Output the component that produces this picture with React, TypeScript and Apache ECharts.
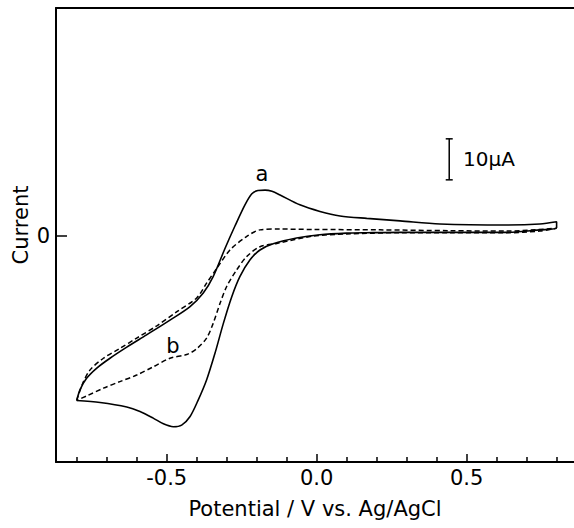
import React, { useEffect, useRef } from "react";
import * as echarts from "echarts";

// Tick values (V) on the potential axis
const xMajorTicks = [-0.5, 0, 0.5];
const xMinorTicks = [-0.8, -0.7, -0.6, -0.4, -0.3, -0.2, -0.1, 0.1, 0.2, 0.3, 0.4, 0.6, 0.7, 0.8];
const yTicks = [0];

// Curve a (solid): forward scan then reverse scan  [potential V, current µA]
const curveAForward: [number, number][] = [
  [-0.8, -40.2], [-0.789, -37.6], [-0.767, -34.8], [-0.733, -32.3], [-0.689, -29.9],
  [-0.633, -27.2], [-0.567, -24.2], [-0.489, -20.6], [-0.422, -17.3], [-0.378, -14.0],
  [-0.345, -10.0], [-0.306, -3.2], [-0.272, 2.4], [-0.239, 7.5], [-0.216, 10.2],
  [-0.196, 11.0], [-0.172, 11.1], [-0.149, 10.8], [-0.122, 9.9], [-0.056, 7.5],
  [0.011, 5.9], [0.078, 4.8], [0.167, 4.2], [0.278, 3.6], [0.411, 2.85],
  [0.633, 2.6], [0.744, 2.85], [0.8, 3.4],
];
const curveAReverse: [number, number][] = [
  [0.8, 1.9], [0.744, 1.4], [0.633, 0.8], [0.444, 0.8], [0.278, 0.8], [0.167, 0.7],
  [0.1, 0.6], [0.011, 0.2], [-0.067, -0.6], [-0.145, -2.0], [-0.189, -3.5],
  [-0.222, -5.9], [-0.256, -10.0], [-0.283, -14.9], [-0.311, -21.4], [-0.339, -28.7],
  [-0.367, -35.2], [-0.395, -40.1], [-0.422, -44.1], [-0.45, -46.2], [-0.478, -46.6],
  [-0.511, -45.9], [-0.545, -44.5], [-0.589, -42.9], [-0.633, -41.8], [-0.722, -40.7],
  [-0.8, -40.2],
];

// Curve b (dashed)
const curveBForward: [number, number][] = [
  [-0.8, -40.2], [-0.782, -36.4], [-0.756, -32.8], [-0.711, -29.9], [-0.656, -27.5],
  [-0.6, -25.0], [-0.533, -22.0], [-0.467, -18.6], [-0.4, -15.2], [-0.367, -11.6],
  [-0.333, -8.0], [-0.289, -3.5], [-0.233, -0.2], [-0.189, 1.4], [-0.122, 1.6],
  [-0.011, 1.5], [0.211, 1.4], [0.444, 1.2], [0.633, 1.1], [0.8, 1.8],
];
const curveBReverse: [number, number][] = [
  [0.8, 1.8], [0.744, 1.1], [0.633, 0.7], [0.444, 0.7], [0.278, 0.7], [0.1, 0.4],
  [-0.011, -0.1], [-0.133, -1.9], [-0.189, -2.7], [-0.233, -5.1], [-0.267, -8.4],
  [-0.3, -12.4], [-0.322, -16.5], [-0.345, -21.4], [-0.367, -25.0], [-0.4, -27.6],
  [-0.433, -29.0], [-0.489, -29.9], [-0.545, -32.0], [-0.6, -34.0], [-0.656, -35.6],
  [-0.711, -37.2], [-0.767, -39.1], [-0.8, -40.2],
];

// Scale bar: 10 µA
const scaleBar: [number, number][] = [[0.442, 13.6], [0.442, 23.6]];

const FONT = "DejaVu Sans";

export default function App() {
  const ref = useRef<HTMLDivElement>(null);
  useEffect(() => {
    if (!ref.current) return;
    const chart = echarts.init(ref.current, undefined, { renderer: "svg" });
    const axisLine = { show: true, onZero: false, lineStyle: { color: "#000", width: 2 } };
    chart.setOption({
      animation: false,
      backgroundColor: "#fff",
      grid: { left: 56, right: 0, top: 8, bottom: 66 },
      xAxis: [
        {
          type: "value", min: -0.869, max: 0.858, position: "bottom",
          axisLine,
          axisTick: { show: true, inside: true, length: 8, customValues: xMajorTicks, lineStyle: { color: "#000", width: 1.5 } },
          axisLabel: {
            customValues: xMajorTicks, margin: 5, color: "#000", fontFamily: FONT, fontSize: 21,
            formatter: (v: number) => v.toFixed(1),
          },
          splitLine: { show: false },
          name: "Potential / V vs. Ag/AgCl", nameLocation: "middle", nameGap: 36,
          nameTextStyle: { color: "#000", fontFamily: FONT, fontSize: 21 },
        },
        {
          type: "value", min: -0.869, max: 0.858, position: "bottom",
          axisLine: { show: false, onZero: false },
          axisTick: { show: true, inside: true, length: 5, customValues: xMinorTicks, lineStyle: { color: "#000", width: 1.5 } },
          axisLabel: { show: false },
          splitLine: { show: false },
        },
        {
          type: "value", min: -0.869, max: 0.858, position: "top",
          axisLine,
          axisTick: { show: false },
          axisLabel: { show: false },
          splitLine: { show: false },
        },
      ],
      yAxis: {
        type: "value", min: -55.2, max: 55.5, position: "left",
        axisLine,
        axisTick: { show: true, inside: true, length: 11, customValues: yTicks, lineStyle: { color: "#000", width: 1.5 } },
        axisLabel: { customValues: yTicks, margin: 6, color: "#000", fontFamily: FONT, fontSize: 21, formatter: (v: number) => String(v) },
        splitLine: { show: false },
      },
      series: [
        {
          type: "line", xAxisIndex: 0, data: [...curveAForward, ...curveAReverse],
          showSymbol: false, smooth: 0.3, lineStyle: { color: "#000", width: 1.6 },
        },
        {
          type: "line", xAxisIndex: 0, data: [...curveBForward, ...curveBReverse],
          showSymbol: false, smooth: 0.3, lineStyle: { color: "#000", width: 1.5, type: [5, 3] },
        },
        {
          type: "line", xAxisIndex: 0, data: scaleBar,
          symbol: "rect", symbolSize: [7, 1.5], showSymbol: true,
          itemStyle: { color: "#000" },
          lineStyle: { color: "#000", width: 1.5 },
        },
      ],
      graphic: [
        { type: "text", left: 463, top: 149, style: { text: "10µA", fill: "#000", font: `20px "${FONT}"` } },
        { type: "text", x: 262, y: 174, style: { text: "a", fill: "#000", font: `21px "${FONT}"`, align: "center", verticalAlign: "middle" } },
        { type: "text", x: 173, y: 346, style: { text: "b", fill: "#000", font: `21px "${FONT}"`, align: "center", verticalAlign: "middle" } },
        { type: "text", x: 21, y: 225, rotation: Math.PI / 2, style: { text: "Current", fill: "#000", font: `21px "${FONT}"`, align: "center", verticalAlign: "middle" } },
      ],
    });
    return () => chart.dispose();
  }, []);
  return <div ref={ref} style={{ position: "absolute", left: 0, top: 0, width: 574, height: 528 }} />;
}
